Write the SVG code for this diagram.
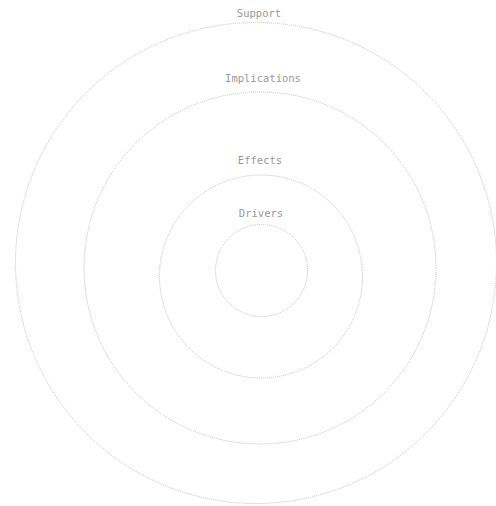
<svg xmlns="http://www.w3.org/2000/svg" width="496" height="506" viewBox="0 0 496 506">
<style>
.ring{fill:none;stroke:#c2c2c2;stroke-width:1;stroke-dasharray:1 1}
.lbl{font-family:"DejaVu Sans Mono","Liberation Mono",monospace;font-size:10.5px;fill:#999;text-anchor:middle}
</style>
<rect width="496" height="506" fill="#fff"/>
<g id="support"><circle class="ring" cx="256" cy="263" r="240.5"/><text class="lbl" x="259" y="17">Support</text></g>
<g id="implications"><circle class="ring" cx="260" cy="268" r="176"/><text class="lbl" x="263" y="82">Implications</text></g>
<g id="effects"><circle class="ring" cx="261" cy="276.5" r="101.5"/><text class="lbl" x="260" y="164">Effects</text></g>
<g id="drivers"><circle class="ring" cx="261.5" cy="270.5" r="46"/><text class="lbl" x="261" y="217">Drivers</text></g>
<g id="connectors"/>
</svg>
